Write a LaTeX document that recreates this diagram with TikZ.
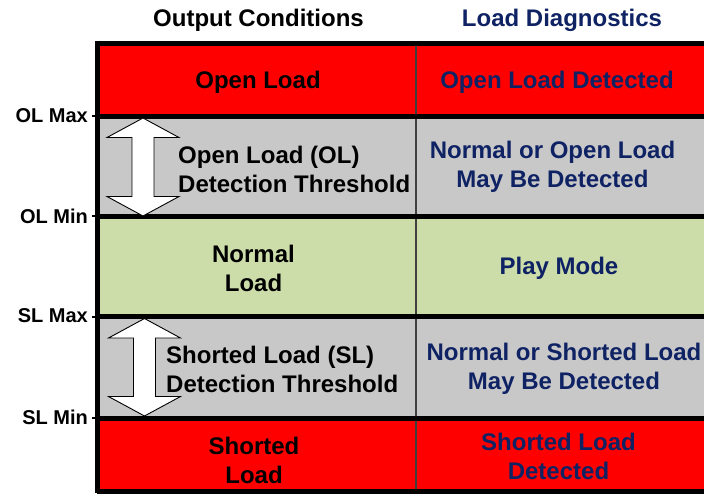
\documentclass[tikz,border=0pt]{standalone}
\usepackage{fontspec}
\setmainfont{Liberation Sans}
\usepackage{tikz}

\definecolor{loadred}{RGB}{255,0,0}
\definecolor{bandgray}{RGB}{200,200,200}
\definecolor{normalgreen}{RGB}{204,221,170}
\definecolor{diagblue}{RGB}{14,34,100}

\begin{document}
\begin{tikzpicture}[x=1pt, y=-1pt,
  txt/.style={font=\bfseries\fontsize{24}{29}\selectfont, inner sep=0pt, align=center},
  diag/.style={txt, text=diagblue},
  lim/.style={font=\bfseries\fontsize{20}{24}\selectfont, inner sep=0pt, anchor=east},
  rule/.style={line width=5pt},
  bigarrow/.style={draw=black, fill=white, line width=0.9pt}]

\useasboundingbox (0,0) rectangle (704,493);

% bands
\fill[color=loadred] (97,43) rectangle (704,116);
\fill[color=bandgray] (97,116) rectangle (704,216);
\fill[color=normalgreen] (97,216) rectangle (704,316.5);
\fill[color=bandgray] (97,316.5) rectangle (704,418);
\fill[color=loadred] (97,418) rectangle (704,491);

% column divider and rules
\draw[color=black!75, line width=2.5pt] (416,43) -- (416,491);
\draw[rule] (95,43) -- (704,43);
\draw[rule] (97,116) -- (704,116);
\draw[rule] (97,216) -- (704,216);
\draw[rule] (97,316.5) -- (704,316.5);
\draw[rule] (97,418) -- (704,418);
\draw[rule] (97,491) -- (704,491);
\draw[rule] (97.5,40.5) -- (97.5,493);

% limit ticks
\draw[line width=2pt] (92,116) -- (97,116);
\draw[line width=2pt] (92,216) -- (97,216);
\draw[line width=2pt] (92,316.5) -- (97,316.5);
\draw[line width=2pt] (92,418) -- (97,418);

% threshold arrows
\draw[bigarrow] (143,118) -- (179,137.5) -- (154,137.5) -- (154,196.5) -- (179,196.5)
  -- (143,216) -- (107,196.5) -- (132,196.5) -- (132,137.5) -- (107,137.5) -- cycle;
\draw[bigarrow] (144.5,318.5) -- (180.5,338) -- (155.5,338) -- (155.5,396.5) -- (180.5,396.5)
  -- (144.5,416) -- (108.5,396.5) -- (133.5,396.5) -- (133.5,338) -- (108.5,338) -- cycle;

% headers
\node[txt] (hdout) at (258.5,20) {Output Conditions};
\node[diag] (hddiag) at (562,20) {Load Diagnostics};

% limit labels
\node[lim] (olmax) at (88,116) {OL Max};
\node[lim] (olmin) at (88,216) {OL Min};
\node[lim] (slmax) at (88,316) {SL Max};
\node[lim] (slmin) at (88,417) {SL Min};

% output conditions
\node[txt] (openload) at (258,82) {Open Load};
\node[txt, align=left, anchor=west] (olthresh) at (178,169) {Open Load (OL)\\Detection Threshold};
\node[txt] (normal) at (253.5,268.5) {Normal\\Load};
\node[txt, align=left, anchor=west] (slthresh) at (166,369.5) {Shorted Load (SL)\\Detection Threshold};
\node[txt] (shorted) at (254,460.5) {Shorted\\Load};

% load diagnostics
\node[diag] (oldetect) at (557,82) {Open Load Detected};
\node[diag] (olmaybe) at (552.5,166.5) {Normal or Open Load\\May Be Detected};
\node[diag] (play) at (559,268) {Play Mode};
\node[diag] (slmaybe) at (564,368.5) {Normal or Shorted Load\\May Be Detected};
\node[diag] (sldetect) at (558.5,456) {Shorted Load\\Detected};
\end{tikzpicture}
\end{document}
